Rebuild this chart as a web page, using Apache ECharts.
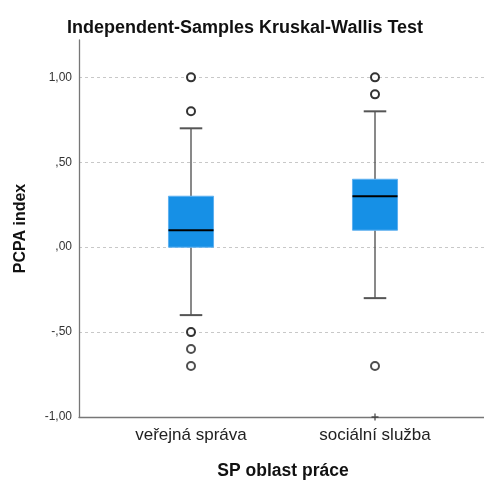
<!DOCTYPE html>
<html>
<head>
  <meta charset="utf-8">
</head>
<body style="height: 100%; margin: 0">
  <div id="container" style="width: 484px; height: 481px"></div>

  <script type="text/javascript" src="https://fastly.jsdelivr.net/npm/echarts@6/dist/echarts.min.js"></script>

  <script type="text/javascript">
    // data
    var categories = ['veřejná správa', 'sociální služba'];
    // [category, lower whisker, Q1, median, Q3, upper whisker]
    var boxData = [
      [0, -0.40, 0.00, 0.10, 0.30, 0.70],
      [1, -0.30, 0.10, 0.30, 0.40, 0.80]
    ];
    // outliers drawn with a heavier ring (several cases on one value)
    var outliersMany = [[0, 1.00], [0, 0.80], [0, -0.50], [1, 1.00], [1, 0.90]];
    var outliersOne = [[0, -0.60], [0, -0.70], [1, -0.70]];
    var extremes = [[1, -1.00]];
    var yTicks = [-1, -0.5, 0, 0.5, 1];

    var FONT = 'Liberation Sans, Arial, sans-serif';

    function fmt(v) {
      var found = yTicks.some(function (t) { return Math.abs(t - v) < 1e-6; });
      if (!found) return '';
      var s = Math.abs(v).toFixed(2).replace('.', ',');
      if (s.charAt(0) === '0') s = s.slice(1);
      return (v < 0 ? '-' : '') + s;
    }

    function renderBox(params, api) {
      var x = api.value(0);
      var lo = api.coord([x, api.value(1)]);
      var q1 = api.coord([x, api.value(2)]);
      var md = api.coord([x, api.value(3)]);
      var q3 = api.coord([x, api.value(4)]);
      var hi = api.coord([x, api.value(5)]);
      var band = api.size([1, 0])[0];
      var hw = band * 0.245 / 2;
      var cw = hw / 2;
      var cx = Math.round(q1[0]);
      var wStyle = { stroke: '#4a4a4a', lineWidth: 1.3 };
      return {
        type: 'group',
        children: [
          { type: 'line', shape: { x1: cx, y1: hi[1], x2: cx, y2: q3[1] }, style: wStyle },
          { type: 'line', shape: { x1: cx, y1: q1[1], x2: cx, y2: lo[1] }, style: wStyle },
          { type: 'line', shape: { x1: cx - cw, y1: hi[1], x2: cx + cw, y2: hi[1] }, style: { stroke: '#555', lineWidth: 2 } },
          { type: 'line', shape: { x1: cx - cw, y1: lo[1], x2: cx + cw, y2: lo[1] }, style: { stroke: '#555', lineWidth: 2 } },
          {
            type: 'rect',
            shape: { x: cx - hw, y: q3[1], width: hw * 2, height: q1[1] - q3[1] },
            style: { fill: '#1690e6', stroke: '#5db0f0', lineWidth: 1 }
          },
          { type: 'line', shape: { x1: cx - hw, y1: md[1], x2: cx + hw, y2: md[1] }, style: { stroke: '#000', lineWidth: 2 } }
        ]
      };
    }

    var dom = document.getElementById('container');
    var myChart = echarts.init(dom, null, { renderer: 'canvas' });

    var option = {
      backgroundColor: '#fff',
      animation: false,
      title: {
        text: 'Independent-Samples Kruskal-Wallis Test',
        left: 62,
        top: 14,
        textStyle: { fontFamily: FONT, fontSize: 18, fontWeight: 'bold', color: '#111' }
      },
      grid: [
        { left: 79, right: 0, top: 40, bottom: 64, containLabel: false, outerBoundsMode: 'none' },
        { left: 99, right: 17, top: 40, bottom: 64, containLabel: false, outerBoundsMode: 'none' }
      ],
      xAxis: [
        {
          gridIndex: 0,
          type: 'value',
          min: 0,
          max: 1,
          axisLine: { show: true, onZero: false, lineStyle: { color: '#777', width: 1.3 } },
          axisTick: { show: false },
          axisLabel: { show: false },
          splitLine: { show: false }
        },
        {
          gridIndex: 1,
          type: 'category',
          data: categories,
          boundaryGap: true,
          axisLine: { show: false },
          axisTick: { show: false },
          axisLabel: { fontFamily: FONT, fontSize: 17, color: '#222', margin: 10 },
          name: 'SP oblast práce',
          nameLocation: 'middle',
          nameGap: 45,
          nameTextStyle: { fontFamily: FONT, fontSize: 17.5, fontWeight: 'bold', color: '#111' }
        }
      ],
      yAxis: [
        {
          gridIndex: 0,
          type: 'value',
          min: -1,
          max: 1.22,
          interval: 0.5,
          axisLine: { show: true, lineStyle: { color: '#777', width: 1.3 } },
          axisTick: { show: false },
          axisLabel: {
            fontFamily: FONT, fontSize: 12, color: '#333', margin: 7,
            showMaxLabel: false,
            formatter: fmt
          },
          splitLine: {
            show: true,
            showMinLine: false,
            showMaxLine: false,
            lineStyle: { color: '#c8c8c8', type: [3, 3], width: 1 }
          },
          name: 'PCPA index',
          nameLocation: 'middle',
          nameGap: 50,
          nameTextStyle: { fontFamily: FONT, fontSize: 16, fontWeight: 'bold', color: '#111' }
        },
        {
          gridIndex: 1,
          type: 'value',
          min: -1,
          max: 1.22,
          show: false
        }
      ],
      series: [
        {
          type: 'custom',
          xAxisIndex: 1,
          yAxisIndex: 1,
          renderItem: renderBox,
          data: boxData,
          z: 3
        },
        {
          type: 'scatter',
          xAxisIndex: 1,
          yAxisIndex: 1,
          symbol: 'emptyCircle',
          symbolSize: 8,
          itemStyle: { color: '#000', borderColor: '#000', borderWidth: 2.2 },
          data: outliersMany,
          z: 4
        },
        {
          type: 'scatter',
          xAxisIndex: 1,
          yAxisIndex: 1,
          symbol: 'emptyCircle',
          symbolSize: 8,
          itemStyle: { color: '#222', borderColor: '#222', borderWidth: 1.5 },
          data: outliersOne,
          z: 4
        },
        {
          type: 'scatter',
          xAxisIndex: 1,
          yAxisIndex: 1,
          symbol: 'path://M4,0h2v4h4v2h-4v4h-2v-4h-4v-2h4z',
          symbolSize: 7,
          itemStyle: { color: '#333' },
          data: extremes,
          z: 1
        }
      ]
    };

    myChart.setOption(option);
    window.addEventListener('resize', myChart.resize);
  </script>
</body>
</html>
